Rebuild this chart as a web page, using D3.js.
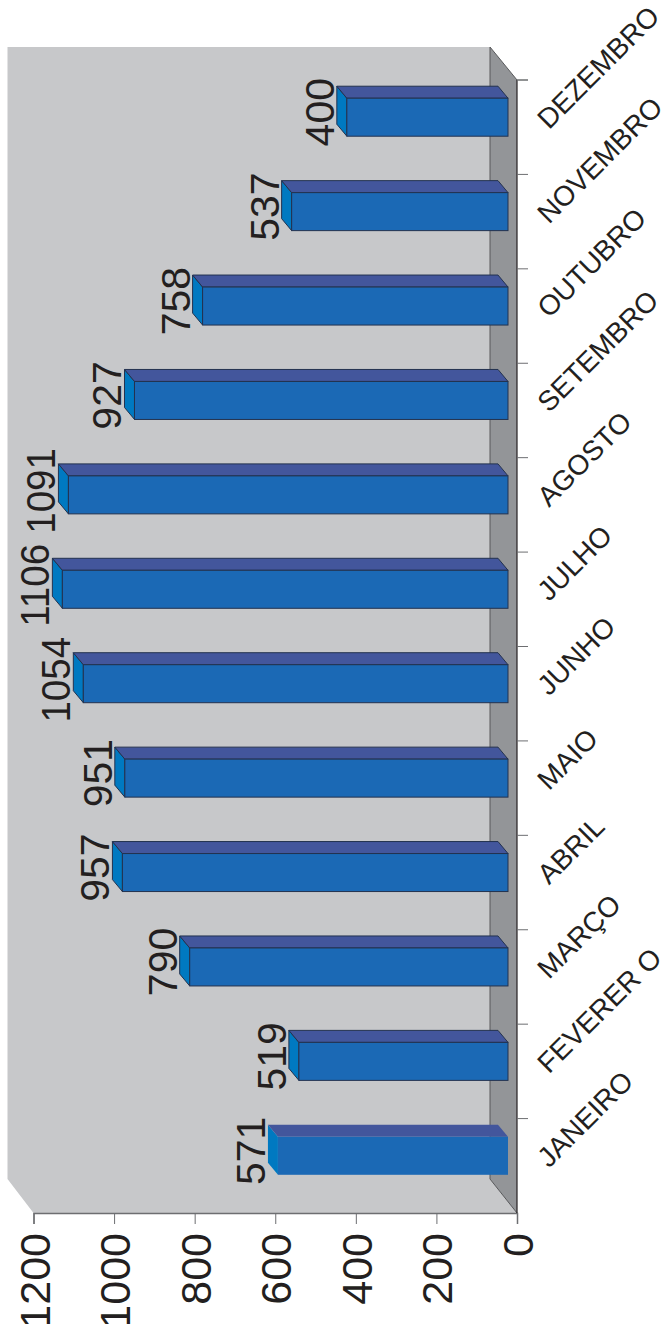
<!DOCTYPE html>
<html><head><meta charset="utf-8">
<script src="https://cdnjs.cloudflare.com/ajax/libs/d3/7.8.5/d3.min.js"></script>
<style>html,body{margin:0;padding:0;background:#fff}svg{display:block}text{font-family:"Liberation Sans",Arial,sans-serif;fill:#231f20}</style>
</head><body><div id="c"></div>
<script>
const months=["JANEIRO","FEVERER O","MARÇO","ABRIL","MAIO","JUNHO","JULHO","AGOSTO","SETEMBRO","OUTUBRO","NOVEMBRO","DEZEMBRO"];
const values=[571,519,790,957,951,1054,1106,1091,927,758,537,400];
const valueTicks=[0,200,400,600,800,1000,1200];

const W=668,H=1324;
const svg=d3.select("#c").append("svg").attr("width",W).attr("height",H);
const x=d3.scaleLinear().domain([0,1200]).range([517,33.5]);
const y=d3.scaleBand().domain(months).range([1213,80]);
const frontShift=9, dx=10, dy=12, barH=38, barOff=-10;
const wallDx=27, wallDy=34;

// walls
const L=x(1200),R=x(0),T=y.range()[1],B=y.range()[0];
svg.append("polygon").attr("fill","#c7c8ca")
 .attr("points",[[L-wallDx+1,T-33],[R-wallDx,T-33],[R-wallDx,B-wallDy],[R,B],[L,B],[L-wallDx+1,B-wallDy]].join(" "));
svg.append("polygon").attr("fill","#939598")
 .attr("points",[[R-wallDx,T-33],[R,T],[R,B],[R-wallDx,B-wallDy]].join(" "));
svg.append("path").attr("fill","none").attr("stroke","#58595b").attr("stroke-width",1)
 .attr("d",`M${R-wallDx},${T-33}V${B-wallDy}L${R},${B}M${R-wallDx},${T-33}L${R},${T}`);

// bars
const g=svg.selectAll("g.bar").data(months.map((m,i)=>({m,v:values[i],i}))).join("g").attr("class","bar");
const geo=d=>{
  const xb=x(0)-frontShift, xt=x(d.v)-frontShift;
  const yc=y(d.m)+y.bandwidth()/2+barOff, y0=yc-barH/2, y1=yc+barH/2;
  return {xb,xt,y0,y1};
};
const st=d=>d.i===0?"none":"#23324f";
g.append("polygon").attr("fill","#0079c1").attr("stroke",st).attr("stroke-width",1).attr("stroke-linejoin","round")
 .attr("points",d=>{const a=geo(d);return [[a.xt,a.y0],[a.xt-dx,a.y0-dy],[a.xt-dx,a.y1-dy],[a.xt,a.y1]].join(" ")});
g.append("polygon").attr("fill","#43569c").attr("stroke",st).attr("stroke-width",1).attr("stroke-linejoin","round")
 .attr("points",d=>{const a=geo(d);return [[a.xt,a.y0],[a.xt-dx,a.y0-dy],[a.xb-dx,a.y0-dy],[a.xb,a.y0]].join(" ")});
g.append("rect").attr("fill","#1b69b5").attr("stroke",st).attr("stroke-width",1)
 .attr("x",d=>geo(d).xt).attr("y",d=>geo(d).y0)
 .attr("width",d=>geo(d).xb-geo(d).xt).attr("height",barH);
g.append("text").attr("font-size",41).attr("text-anchor","middle")
 .attr("transform",d=>{const a=geo(d);const wide=d.v>=1000;
   return `translate(${a.xt-dx-3},${(a.y0-dy+a.y1)/2+(wide?2:1)}) rotate(-90) scale(${wide?0.94:1},1)`})
 .text(d=>d.v);

// axes
const ax=svg.append("g").attr("transform",`translate(0,${B})`).call(d3.axisBottom(x).tickValues(valueTicks).tickSize(11).tickFormat(""));
ax.select(".domain").attr("stroke","#6d6e71").attr("stroke-width",1.5);
ax.selectAll(".tick line").attr("stroke","#6d6e71");
svg.selectAll("text.vt").data(valueTicks).join("text").attr("class","vt").attr("font-size",43).attr("text-anchor","end")
 .attr("transform",d=>`translate(${x(d)+16},${B+20}) rotate(-90)`).text(d=>d);

svg.append("line").attr("x1",R).attr("x2",R).attr("y1",T).attr("y2",B).attr("stroke","#231f20").attr("stroke-width",1.2);
const edges=months.map(m=>y(m)).concat([T]);
svg.selectAll("line.ct").data(edges).join("line").attr("class","ct")
 .attr("x1",R).attr("x2",R+11).attr("y1",d=>d).attr("y2",d=>d).attr("stroke","#6d6e71");
svg.selectAll("text.cat").data(months).join("text").attr("class","cat").attr("font-size",28)
 .attr("transform",m=>`translate(${R+32},${y(m)+y.bandwidth()/2+3}) rotate(-45)`).text(m=>m);
</script></body></html>
